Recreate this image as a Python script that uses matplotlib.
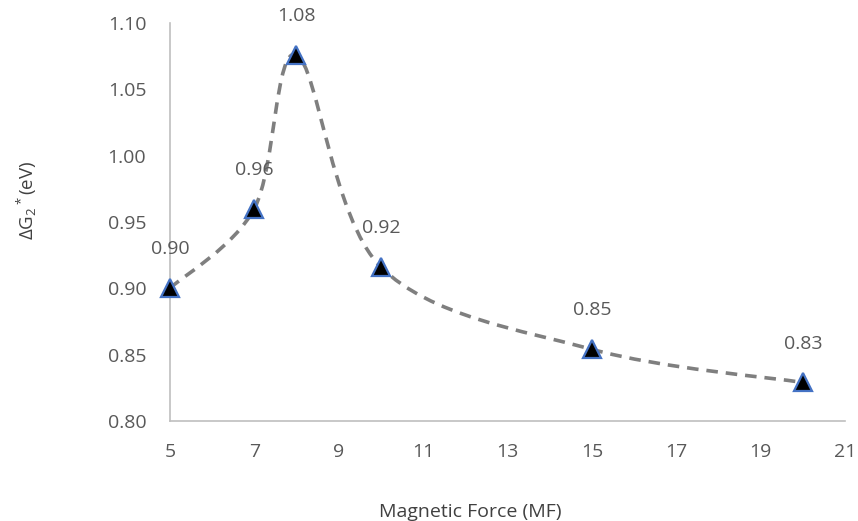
import matplotlib
matplotlib.use("Agg")
from matplotlib import pyplot as plt
from matplotlib.path import Path
from matplotlib.patches import PathPatch
import numpy as np

# Data
magnetic_force = [5, 7, 8, 10, 15, 20]
delta_g2 = [0.900, 0.960, 1.076, 0.916, 0.854, 0.829]
x_ticks = [5, 7, 9, 11, 13, 15, 17, 19, 21]
y_ticks = [0.80, 0.85, 0.90, 0.95, 1.00, 1.05, 1.10]

plt.rcParams['font.family'] = ['Open Sans', 'DejaVu Sans']
plt.rcParams['mathtext.fontset'] = 'custom'
plt.rcParams['mathtext.rm'] = 'Open Sans'
plt.rcParams['mathtext.it'] = 'Open Sans'

text_grey = '#595959'
axis_grey = '#bfbfbf'
fs = 14


def smooth_path(xs, ys):
    # Catmull-Rom style Bezier segments, like a spreadsheet "smoothed line"
    pts = np.column_stack([xs, ys]).astype(float)
    n = len(pts)
    verts = [pts[0]]
    codes = [Path.MOVETO]
    for i in range(n - 1):
        p0 = pts[max(i - 1, 0)]
        p1 = pts[i]
        p2 = pts[i + 1]
        p3 = pts[min(i + 2, n - 1)]
        c1 = p1 + (p2 - p0) / 6.0
        c2 = p2 - (p3 - p1) / 6.0
        verts += [c1, c2, p2]
        codes += [Path.CURVE4] * 3
    return Path(verts, codes)


fig = plt.figure(figsize=(8.58, 5.21), dpi=100)
ax = fig.add_axes([0.198, 0.192, 0.787, 0.764])

curve = PathPatch(smooth_path(magnetic_force, delta_g2), facecolor='none',
                  edgecolor='#7f7f7f', linewidth=2.6, linestyle=(0, (3.2, 2.2)),
                  transform=ax.transData, zorder=2)
ax.add_patch(curve)

ax.plot(magnetic_force, delta_g2, linestyle='none', marker='^', markersize=13,
        markerfacecolor='black', markeredgecolor='#4472c4', markeredgewidth=1.6,
        zorder=3, clip_on=False)

for x, y in zip(magnetic_force, delta_g2):
    ax.annotate('%.2f' % y, (x, y), xytext=(0, 28), textcoords='offset points',
                ha='center', va='center', fontsize=fs, color=text_grey)

ax.set_xlim(5, 21)
ax.set_ylim(0.80, 1.10)
ax.set_xticks(x_ticks)
ax.set_yticks(y_ticks)
ax.set_yticklabels(['%.2f' % v for v in y_ticks])

for side in ['top', 'right']:
    ax.spines[side].set_visible(False)
for side in ['left', 'bottom']:
    ax.spines[side].set_color(axis_grey)
    ax.spines[side].set_linewidth(1.2)

ax.tick_params(axis='both', length=0, labelsize=fs, colors=text_grey)
ax.tick_params(axis='x', pad=16)
ax.tick_params(axis='y', pad=17)

fig.text(0.548, 0.018, 'Magnetic Force (MF)', ha='center', va='center',
         fontsize=fs, color='#404040')
fig.text(0.031, 0.615, r'$\Delta$G$_2$$^*$(eV)', rotation=90, ha='center',
         va='center', fontsize=fs - 0.5, color='#404040')

fig.savefig('out.png', dpi=100)
